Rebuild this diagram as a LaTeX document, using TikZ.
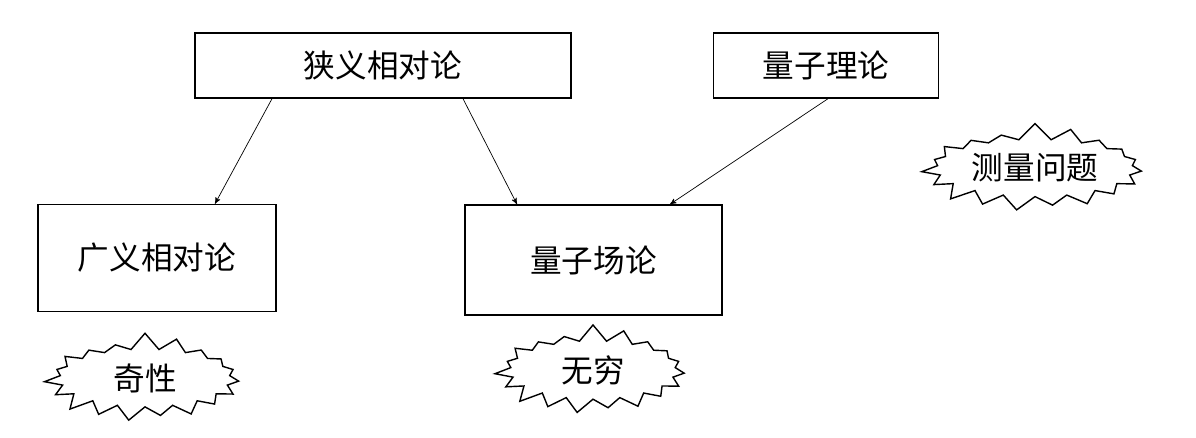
\documentclass[tikz,border=0pt]{standalone}
\usepackage{fontspec}
\setmainfont{Noto Sans CJK SC}
\usetikzlibrary{arrows}
\usetikzlibrary{positioning}
\usetikzlibrary{shapes}
\tikzset{
    arrow/.style={->,>=stealth', thin},
    box/.style = {
      rectangle,
      draw,
      thick,
      font=\fontsize{18}{22}\selectfont
    },
    burst/.style = {
      starburst,
      draw,
      thick,
      starburst points=19,
      starburst point height=0.35cm,
      random starburst=7,
      font=\fontsize{18}{22}\selectfont
    },
}
\begin{document}
\begin{tikzpicture}[x=0.02cm, y=-0.02cm]
      \useasboundingbox (0,0) rectangle (1196,438);
      \node [box, minimum width=7.52cm, minimum height=1.3cm] (xiayi) at (383,65.5) {狭义相对论};
      \node [box, minimum width=4.5cm, minimum height=1.3cm] (liangzi) at (826,65.5) {量子理论};
      \node [box, minimum width=4.76cm, minimum height=2.14cm] (guangyi) at (157,258) {广义相对论};
      \node [box, minimum width=5.14cm, minimum height=2.2cm] (changlun) at (593.5,260) {量子场论};

      \node [burst, minimum width=4.6cm, minimum height=1.8cm] (celiang) at (1035,168) {测量问题};
      \node [burst, minimum width=4.1cm, minimum height=1.5cm] (qixing) at (145,378) {奇性};
      \node [burst, minimum width=4cm, minimum height=1.6cm] (wuqiong) at (593,370) {无穷};

      \draw [arrow] ([xshift=-2.22cm]xiayi.south) -- ([xshift=1.16cm]guangyi.north);
      \draw [arrow] ([xshift=1.6cm]xiayi.south) -- ([xshift=-1.53cm]changlun.north);
      \draw [arrow] ([xshift=0.04cm]liangzi.south) -- ([xshift=1.53cm]changlun.north);
\end{tikzpicture}
\end{document}
